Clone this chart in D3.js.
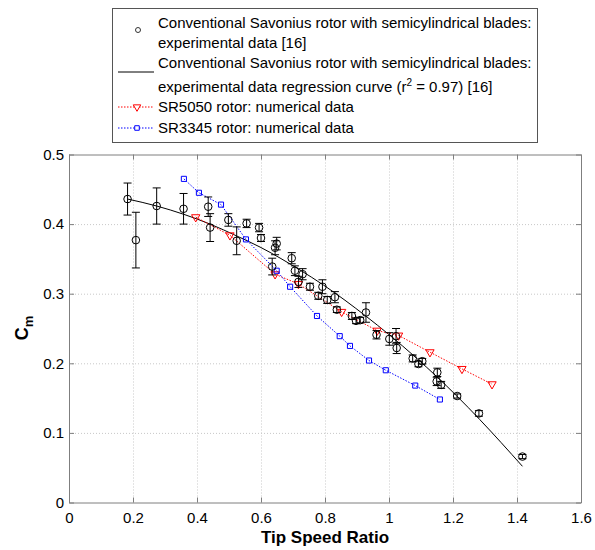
<!DOCTYPE html>
<meta charset="utf-8">
<style>
    html,
    body {
        margin: 0;
        padding: 0;
        background: #fff;
    }

    svg {
        font-family: "Liberation Sans", Arial, sans-serif;
    }

    .grid line {
        stroke: #c8c8c8;
        stroke-dasharray: 1, 2;
    }

    .grid path {
        display: none;
    }
</style>
<div id="chart"></div>
<script src="https://d3js.org/d3.v7.min.js"></script>
<script>
    // experimental points (conventional Savonius rotor) with error bar half-heights
    const tsrExp = [0.183, 0.209, 0.274, 0.358, 0.435, 0.441, 0.498, 0.524, 0.555, 0.594,
        0.600, 0.649, 0.644, 0.635, 0.696, 0.706, 0.730, 0.717, 0.753, 0.792,
        0.779, 0.807, 0.831, 0.837, 0.884, 0.897, 0.910, 0.928, 0.961, 1.001,
        1.022, 1.024, 1.074, 1.092, 1.104, 1.151, 1.149, 1.163, 1.213, 1.281, 1.417];
    const cmExp = [0.436, 0.377, 0.426, 0.422, 0.425, 0.395, 0.406, 0.376, 0.401, 0.395,
        0.380, 0.372, 0.366, 0.339, 0.351, 0.333, 0.328, 0.317, 0.310, 0.310,
        0.297, 0.291, 0.295, 0.277, 0.268, 0.261, 0.262, 0.273, 0.241, 0.235,
        0.239, 0.222, 0.207, 0.199, 0.203, 0.187, 0.174, 0.169, 0.153, 0.128, 0.066];
    const errExp = [0.023, 0.040, 0.026, 0.022, 0.014, 0.020, 0.009, 0.020, 0.006, 0.006,
        0.005, 0.009, 0.010, 0.012, 0.008, 0.007, 0.008, 0.008, 0.005, 0.010,
        0.005, 0.005, 0.008, 0.004, 0.005, 0.004, 0.004, 0.014, 0.006, 0.009,
        0.011, 0.008, 0.005, 0.004, 0.004, 0.006, 0.006, 0.005, 0.003, 0.004, 0.003];

    // regression curve
    const tsrFit = [0.183, 0.274, 0.359, 0.441, 0.524, 0.597, 0.722, 0.795, 0.930, 0.998,
        1.087, 1.212, 1.284, 1.417];
    const cmFit = [0.436, 0.426, 0.414, 0.400, 0.383, 0.367, 0.334, 0.3125, 0.267, 0.242,
        0.207, 0.153, 0.119, 0.052];

    // SR5050 numerical
    const tsrSR5050 = [0.396, 0.503, 0.644, 0.717, 0.852, 0.963, 1.030, 1.128, 1.228, 1.322];
    const cmSR5050 = [0.410, 0.384, 0.328, 0.314, 0.274, 0.247, 0.240, 0.216, 0.192, 0.170];

    // SR3345 numerical
    const tsrSR3345 = [0.359, 0.406, 0.475, 0.553, 0.649, 0.691, 0.775, 0.846, 0.878, 0.9375,
        0.990, 1.082, 1.159];
    const cmSR3345 = [0.465, 0.445, 0.428, 0.378, 0.333, 0.310, 0.268, 0.239, 0.225, 0.204,
        0.190, 0.168, 0.148];

    const xTicks = [0, 0.2, 0.4, 0.6, 0.8, 1, 1.2, 1.4, 1.6];
    const yTicks = [0, 0.1, 0.2, 0.3, 0.4, 0.5];

    const legendLabels = [
        ["Conventional Savonius rotor with semicylindrical blades:", "experimental data [16]"],
        ["Conventional Savonius rotor with semicylindrical blades:", "experimental data regression curve (r", "2", " = 0.97) [16]"],
        ["SR5050 rotor: numerical data"],
        ["SR3345 rotor: numerical data"]
    ];

    let width = 595,
        height = 550,
        plotL = 69, plotR = 581, plotT = 154.5, plotB = 502.5;

    let svg = d3.select("#chart").append("svg")
        .attr("width", width)
        .attr("height", height);

    let x = d3.scaleLinear().domain([0, 1.6]).range([plotL, plotR]);
    let y = d3.scaleLinear().domain([0, 0.5]).range([plotB, plotT]);

    // grid
    svg.append("g")
        .attr("class", "grid")
        .attr("transform", `translate(0,${plotB})`)
        .call(d3.axisBottom(x).tickValues(xTicks.slice(1, -1)).tickSize(-(plotB - plotT)).tickFormat(""));
    svg.append("g")
        .attr("class", "grid")
        .attr("transform", `translate(${plotL},0)`)
        .call(d3.axisLeft(y).tickValues(yTicks.slice(1, -1)).tickSize(-(plotR - plotL)).tickFormat(""));

    // axes with inward ticks
    let fmt = d => d3.format("~g")(d);
    let axisColor = "#7f7f7f";

    let gx = svg.append("g")
        .attr("transform", `translate(0,${plotB})`)
        .call(d3.axisBottom(x).tickValues(xTicks).tickSizeInner(-5).tickSizeOuter(0).tickPadding(10).tickFormat(fmt));
    let gy = svg.append("g")
        .attr("transform", `translate(${plotL},0)`)
        .call(d3.axisLeft(y).tickValues(yTicks).tickSizeInner(-5).tickSizeOuter(0).tickPadding(5).tickFormat(fmt));
    let gxt = svg.append("g")
        .attr("transform", `translate(0,${plotT})`)
        .call(d3.axisTop(x).tickValues(xTicks).tickSizeInner(-5).tickSizeOuter(0).tickFormat(""));
    let gyr = svg.append("g")
        .attr("transform", `translate(${plotR},0)`)
        .call(d3.axisRight(y).tickValues(yTicks).tickSizeInner(-5).tickSizeOuter(0).tickFormat(""));

    [gx, gy, gxt, gyr].forEach(g => {
        g.select(".domain").attr("stroke", axisColor);
        g.selectAll(".tick line").attr("stroke", axisColor);
        g.selectAll("text")
            .attr("fill", "#000")
            .style("font-size", "15px")
            .style("font-family", '"Liberation Sans", Arial, sans-serif');
    });

    // axis titles
    svg.append("text")
        .attr("x", 325)
        .attr("y", 543)
        .attr("text-anchor", "middle")
        .style("font-size", "17px")
        .style("font-weight", "bold")
        .text("Tip Speed Ratio");

    let ylab = svg.append("text")
        .attr("transform", "translate(28,328) rotate(-90)")
        .attr("text-anchor", "middle")
        .style("font-size", "18px")
        .style("font-weight", "bold");
    ylab.append("tspan").text("C");
    ylab.append("tspan").attr("dy", 5).style("font-size", "13px").text("m");

    // regression curve
    let fitLine = d3.line()
        .x((d, i) => x(tsrFit[i]))
        .y(d => y(d))
        .curve(d3.curveMonotoneX);

    svg.append("path")
        .datum(cmFit)
        .attr("d", fitLine)
        .attr("fill", "none")
        .attr("stroke", "#000")
        .attr("stroke-width", 1);

    // numerical series
    let series = [
        { xs: tsrSR5050, ys: cmSR5050, color: "#ff0000", symbol: d3.symbolTriangle, size: 30, rot: 180 },
        { xs: tsrSR3345, ys: cmSR3345, color: "#0000ff", symbol: d3.symbolSquare, size: 26, rot: 0 }
    ];

    series.forEach(s => {
        let line = d3.line()
            .x((d, i) => x(s.xs[i]))
            .y(d => y(d));

        svg.append("path")
            .datum(s.ys)
            .attr("d", line)
            .attr("fill", "none")
            .attr("stroke", s.color)
            .attr("stroke-width", 1)
            .attr("stroke-dasharray", "1.5,1.5");

        svg.append("g").selectAll("path")
            .data(s.ys)
            .join("path")
            .attr("d", d3.symbol().type(s.symbol).size(s.size))
            .attr("transform", (d, i) => `translate(${x(s.xs[i])},${y(d)}) rotate(${s.rot})`)
            .attr("fill", "none")
            .attr("stroke", s.color)
            .attr("stroke-width", 1);
    });

    // experimental points with error bars
    let exp = svg.append("g").selectAll("g")
        .data(cmExp)
        .join("g")
        .attr("stroke", "#000")
        .attr("fill", "none")
        .attr("stroke-width", 1);

    exp.append("line")
        .attr("x1", (d, i) => x(tsrExp[i]))
        .attr("x2", (d, i) => x(tsrExp[i]))
        .attr("y1", (d, i) => y(d + errExp[i]))
        .attr("y2", (d, i) => y(d - errExp[i]));
    exp.append("line")
        .attr("x1", (d, i) => x(tsrExp[i]) - 4)
        .attr("x2", (d, i) => x(tsrExp[i]) + 4)
        .attr("y1", (d, i) => y(d + errExp[i]))
        .attr("y2", (d, i) => y(d + errExp[i]));
    exp.append("line")
        .attr("x1", (d, i) => x(tsrExp[i]) - 4)
        .attr("x2", (d, i) => x(tsrExp[i]) + 4)
        .attr("y1", (d, i) => y(d - errExp[i]))
        .attr("y2", (d, i) => y(d - errExp[i]));
    exp.append("circle")
        .attr("cx", (d, i) => x(tsrExp[i]))
        .attr("cy", d => y(d))
        .attr("r", 3.8);

    // legend
    let legend = svg.append("g");

    legend.append("rect")
        .attr("x", 112.5)
        .attr("y", 8.5)
        .attr("width", 425)
        .attr("height", 134)
        .attr("fill", "#fff")
        .attr("stroke", "#555");

    let rowY = [28, 48, 68, 92, 112, 133];
    let textRows = [
        [legendLabels[0][0]],
        [legendLabels[0][1]],
        [legendLabels[1][0]],
        legendLabels[1].slice(1),
        legendLabels[2],
        legendLabels[3]
    ];

    textRows.forEach((parts, r) => {
        let t = legend.append("text")
            .attr("x", 158)
            .attr("y", rowY[r])
            .style("font-size", "15px");
        if (parts.length === 1) {
            t.text(parts[0]);
        } else {
            t.append("tspan").text(parts[0]);
            t.append("tspan").attr("dy", -6).style("font-size", "10px").text(parts[1]);
            t.append("tspan").attr("dy", 6).text(parts[2]);
        }
    });

    legend.append("circle")
        .attr("cx", 138).attr("cy", 30).attr("r", 2.5)
        .attr("fill", "none").attr("stroke", "#333");

    legend.append("line")
        .attr("x1", 118).attr("x2", 154).attr("y1", 72).attr("y2", 72)
        .attr("stroke", "#000");

    [[107, series[0]], [128, series[1]]].forEach(([ly, s]) => {
        legend.append("line")
            .attr("x1", 118).attr("x2", 154).attr("y1", ly).attr("y2", ly)
            .attr("stroke", s.color)
            .attr("stroke-dasharray", "1.5,1.5");
        legend.append("path")
            .attr("d", d3.symbol().type(s.symbol).size(s.size * 0.8))
            .attr("transform", `translate(137,${ly}) rotate(${s.rot})`)
            .attr("fill", "#fff")
            .attr("stroke", s.color);
    });
</script>
